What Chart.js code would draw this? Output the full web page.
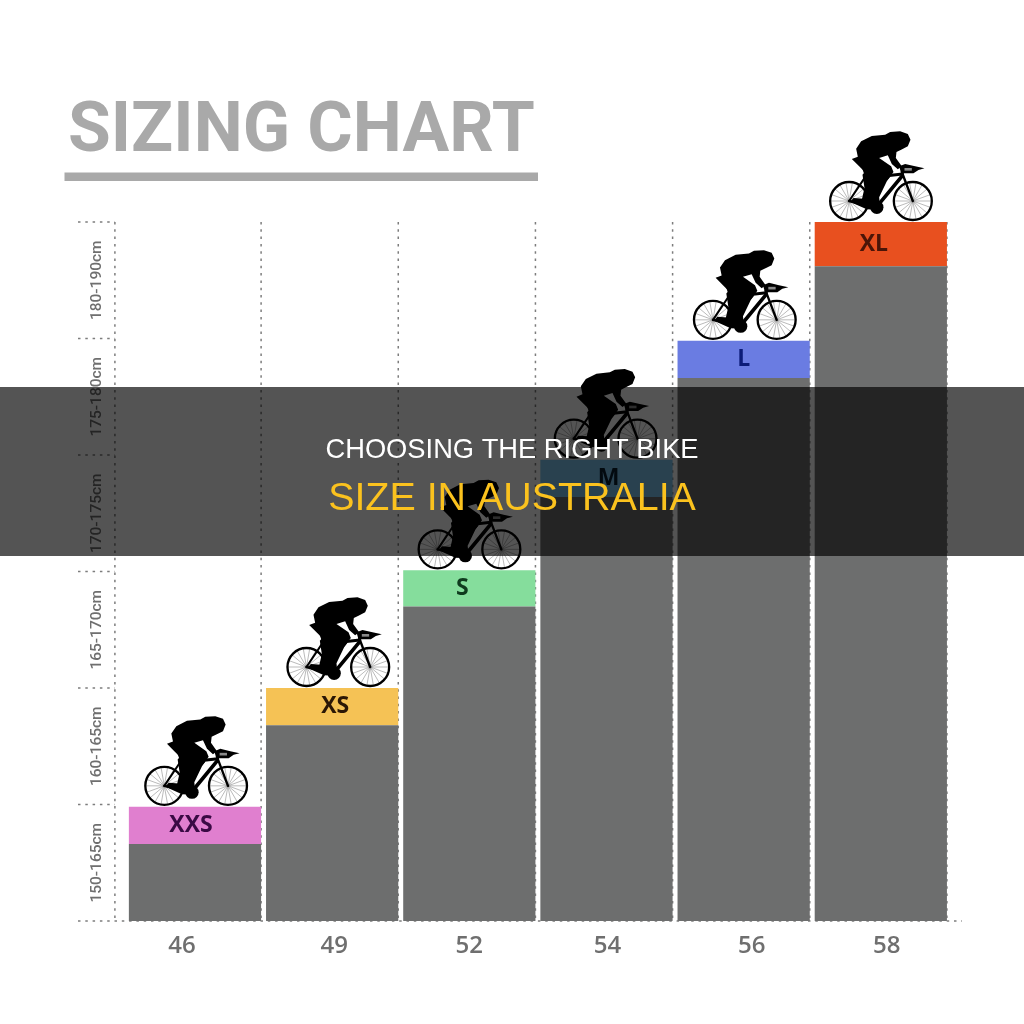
<!DOCTYPE html>
<html>
<head>
<meta charset="utf-8">
<title>Choosing the right bike size in Australia</title>
<script src="https://cdn.jsdelivr.net/npm/chart.js@4"></script>
<style>
  html, body { margin: 0; background: #fff; }
  canvas { display: block; }
</style>
</head>
<body>
<canvas id="sizing-chart" width="1024" height="1024"></canvas>
<script>
// data (y unit = one height band)
const frameSizes = ["46", "49", "52", "54", "56", "58"];
const bikeSizes = ["XXS", "XS", "S", "M", "L", "XL"];
const heightBands = ["150-165cm", "160-165cm", "165-170cm", "170-175cm", "175-180cm", "180-190cm"];
const greyValues = [0.66, 1.68, 2.7, 3.64, 4.66, 5.62];
const bandValues = [0.32, 0.32, 0.31, 0.32, 0.32, 0.38];
const bandColors = ["#e07fcf", "#f5c255", "#85dd9c", "#7cc4ee", "#6a7ce2", "#e8501f"];
const sizeTextColors = ["#3a0a44", "#2b1705", "#0f3a1e", "#0b1f30", "#0c1c78", "#4a1508"];

// hand placed offsets, the source image is not quite regular
const frameLabelNudge = [-13, 2, 0, 1, 8, 6];
const sizeLabelNudge = [-4, 3, -7, 2, 0, -7];
const bikeNudge = [1, 6, 0, -1, 1, 0];

const gridColor = "#7d7d7d";
const greyBar = "#6d6e6e";

function drawWheel(ctx, cx, cy) {
  ctx.strokeStyle = "rgba(80,80,80,0.6)";
  ctx.lineWidth = 2;
  for (let a = 0; a < 18; a++) {
    const ang = (a * Math.PI) / 9;
    ctx.beginPath();
    ctx.moveTo(cx, cy);
    ctx.lineTo(cx + Math.cos(ang) * 56, cy + Math.sin(ang) * 56);
    ctx.stroke();
  }
  ctx.strokeStyle = "#000";
  ctx.lineWidth = 7;
  ctx.beginPath();
  ctx.arc(cx, cy, 57, 0, Math.PI * 2);
  ctx.stroke();
}

function fillShape(ctx, pts) {
  ctx.beginPath();
  pts.forEach((p, i) => (i ? ctx.lineTo(p[0], p[1]) : ctx.moveTo(p[0], p[1])));
  ctx.closePath();
  ctx.fill();
}

function strokeLine(ctx, width, x1, y1, x2, y2) {
  ctx.lineWidth = width;
  ctx.beginPath();
  ctx.moveTo(x1, y1);
  ctx.lineTo(x2, y2);
  ctx.stroke();
}

// rider on a bike, traced at 3x with the origin on the ground between the wheels
function drawBike(ctx, cx, groundY) {
  ctx.save();
  ctx.translate(cx, groundY);
  ctx.scale(1 / 3, 1 / 3);
  ctx.translate(-177, -289);
  ctx.lineCap = "round";
  ctx.lineJoin = "round";

  drawWheel(ctx, 82, 229);
  drawWheel(ctx, 273, 229);

  ctx.strokeStyle = "#000";
  ctx.fillStyle = "#000";
  // frame
  strokeLine(ctx, 7, 82, 229, 165, 248);
  strokeLine(ctx, 6, 82, 229, 135, 150);
  strokeLine(ctx, 9, 135, 160, 242, 148);
  strokeLine(ctx, 11, 165, 246, 240, 155);
  strokeLine(ctx, 8, 125, 130, 165, 246);
  strokeLine(ctx, 7, 240, 142, 273, 229);

  // crank
  ctx.beginPath();
  ctx.arc(165, 248, 20, 0, Math.PI * 2);
  ctx.fill();

  // body, helmet and legs
  fillShape(ctx, [
    [90, 103], [108, 96], [103, 72], [118, 50], [150, 34], [190, 30], [205, 22],
    [235, 20], [258, 28], [266, 45], [258, 65], [238, 75], [224, 82], [222, 100],
    [240, 125], [228, 134], [210, 118], [198, 92], [172, 100], [208, 125], [215, 142],
    [195, 170], [172, 218], [176, 256], [135, 254], [85, 232], [95, 220], [126, 222],
    [138, 190], [142, 155], [112, 125],
  ]);
  // far leg
  fillShape(ctx, [
    [150, 118], [195, 136], [204, 158], [178, 186], [158, 242], [118, 234], [128, 190], [122, 150],
  ]);
  // aero bars
  fillShape(ctx, [
    [232, 125], [250, 118], [280, 125], [308, 131], [290, 136], [275, 146], [238, 146],
  ]);
  ctx.fillStyle = "#8a8a8a";
  ctx.fillRect(248, 130, 22, 8);
  ctx.restore();
}

const sizingFrame = {
  id: "sizingFrame",
  beforeDatasetsDraw(chart) {
    const { ctx, chartArea, scales } = chart;
    const bars = chart.getDatasetMeta(0).data;
    ctx.save();
    ctx.strokeStyle = gridColor;
    ctx.lineWidth = 1.5;
    ctx.setLineDash([2.5, 4.8]);

    // vertical lines run along the right edge of each bar
    const edges = [chartArea.left - 11.5].concat(bars.map((b) => b.x + b.width / 2));
    edges.forEach((x) => {
      ctx.beginPath();
      ctx.moveTo(x, chartArea.top);
      ctx.lineTo(x, chartArea.bottom);
      ctx.stroke();
    });

    // short ticks on the left, the base line goes all the way across
    for (let v = 0; v <= heightBands.length; v++) {
      const y = scales.y.getPixelForValue(v);
      ctx.beginPath();
      ctx.moveTo(78, y);
      ctx.lineTo(v === 0 ? 962 : chartArea.left - 11.5, y);
      ctx.stroke();
    }
    ctx.restore();
  },
  afterDatasetsDraw(chart) {
    const { ctx, chartArea, scales } = chart;
    const bars = chart.getDatasetMeta(1).data;
    ctx.save();

    // rule under the title
    ctx.fillStyle = "#a9a9a9";
    ctx.fillRect(64.5, 172.5, 473.5, 8.5);

    ctx.textAlign = "center";
    ctx.textBaseline = "middle";

    bars.forEach((bar, i) => {
      drawBike(ctx, bar.x + bikeNudge[i], bar.y - 1);
      const midY = (bar.y + bar.base) / 2;
      ctx.fillStyle = sizeTextColors[i];
      ctx.font = "bold 23px 'Open Sans'";
      ctx.fillText(bikeSizes[i], bar.x + sizeLabelNudge[i], midY);
    });

    // frame sizes under the axis
    ctx.fillStyle = "#6f6f6f";
    ctx.font = "600 24px 'Open Sans'";
    frameSizes.forEach((label, i) => {
      ctx.fillText(label, scales.x.getPixelForValue(i) + frameLabelNudge[i], chartArea.bottom + 25);
    });

    // dark banner over everything
    ctx.fillStyle = "rgba(0,0,0,0.67)";
    ctx.fillRect(0, 387, 1024, 169);
    ctx.font = "27.3px 'Liberation Sans'";
    ctx.fillStyle = "#ffffff";
    ctx.fillText("CHOOSING THE RIGHT BIKE", 512, 450);
    ctx.font = "39.4px 'Liberation Sans'";
    ctx.fillStyle = "#fbc21e";
    ctx.fillText("SIZE IN AUSTRALIA", 512, 499);
    ctx.restore();
  },
};

new Chart(document.getElementById("sizing-chart"), {
  type: "bar",
  plugins: [sizingFrame],
  data: {
    labels: frameSizes,
    datasets: [
      {
        label: "Frame",
        data: greyValues,
        backgroundColor: greyBar,
        borderWidth: 0,
        categoryPercentage: 1,
        barPercentage: 0.964,
      },
      {
        label: "Size",
        data: bandValues,
        backgroundColor: bandColors,
        borderWidth: 0,
        categoryPercentage: 1,
        barPercentage: 0.964,
      },
    ],
  },
  options: {
    responsive: false,
    animation: false,
    layout: { padding: { left: 68, right: 74.6, top: 0, bottom: 103 } },
    plugins: {
      legend: { display: false },
      tooltip: { enabled: false },
      title: {
        display: true,
        text: "SIZING CHART",
        align: "start",
        color: "#a9a9a9",
        font: { family: "Roboto", size: 69.5, weight: "bold", lineHeight: 1 },
        padding: { top: 98.75, bottom: 53.75 },
      },
    },
    scales: {
      x: {
        stacked: true,
        grid: { display: false, drawTicks: false },
        border: { display: false },
        ticks: { display: false },
      },
      y: {
        stacked: true,
        display: false,
        min: 0,
        max: heightBands.length,
      },
      bands: {
        type: "category",
        position: "left",
        labels: heightBands,
        reverse: true,
        offset: true,
        grid: { display: false, drawTicks: false },
        border: { display: false },
        ticks: {
          color: "#6f6f6f",
          font: { family: "Roboto", size: 15.5, weight: "500" },
          minRotation: 90,
          maxRotation: 90,
          crossAlign: "center",
          padding: -11,
        },
        afterFit(scale) {
          scale.width = 58.4;
        },
      },
    },
  },
});
</script>
</body>
</html>
